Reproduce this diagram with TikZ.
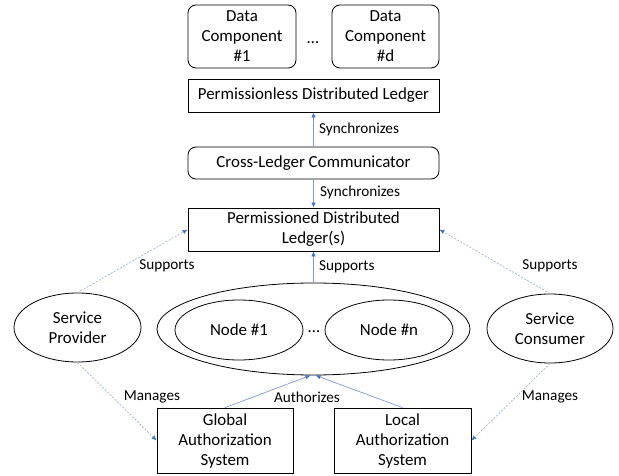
\documentclass[tikz,border=0pt]{standalone}
\usepackage{fontspec}
\setmainfont{Carlito}
\usetikzlibrary{shapes.geometric,arrows.meta,calc}
\definecolor{arr}{HTML}{4472C4}
\definecolor{lnk}{HTML}{7F9AD0}
\definecolor{dsh}{HTML}{9DB2DA}
\begin{document}
\begin{tikzpicture}[x=1pt,y=-1pt,
  every node/.style={font=\fontsize{16.9}{20}\selectfont, align=center, inner sep=0pt},
  rbox/.style={draw, line width=0.8pt, rounded corners=8pt},
  sbox/.style={draw, line width=0.8pt},
  ell/.style={draw, ellipse, line width=0.8pt},
  link/.style={draw=lnk, line width=0.7pt, -{Latex[length=5pt,width=4.5pt,color=arr]}},
  dlink/.style={draw=dsh, line width=0.7pt, dash pattern=on 2pt off 1.5pt, -{Latex[length=5pt,width=4.5pt,color=arr]}},
  lbl/.style={font=\fontsize{15.2}{18}\selectfont}
]
\useasboundingbox (0,0) rectangle (619,476);
% top data components
\node[rbox, minimum width=108pt, minimum height=63pt] (d1) at (242,36.5) {Data\\Component\\\#1};
\node[rbox, minimum width=107pt, minimum height=63pt] (dd) at (385.5,36.5) {Data\\Component\\\#d};
\node (ddots) at (313,43) {\dots};
\node[sbox, minimum width=251pt, minimum height=33pt] (pless) at (313.5,95.5) {Permissionless Distributed Ledger};
\node[rbox, minimum width=251pt, minimum height=32pt] (cross) at (313.5,163) {Cross-Ledger Communicator};
\node[sbox, minimum width=251pt, minimum height=43pt] (perm) at (313.5,229.5) {Permissioned Distributed\\Ledger(s)};
% nodes ellipse
\node[ell, minimum width=313pt, minimum height=92pt] (big) at (313.5,329) {};
\node[ell, minimum width=128pt, minimum height=60pt] (n1) at (239,330) {Node \#1};
\node[ell, minimum width=128pt, minimum height=60pt] (nn) at (389,330) {Node \#n};
\node (ndots) at (314,332) {\dots};
% side ellipses
\node[ell, minimum width=127pt, minimum height=69pt] (sp) at (77.5,327.5) {Service\\Provider};
\node[ell, minimum width=126pt, minimum height=69pt] (sc) at (550,328.5) {Service\\Consumer};
% auth boxes
\node[sbox, minimum width=136pt, minimum height=65pt] (glob) at (225,440.5) {Global\\Authorization\\System};
\node[sbox, minimum width=137pt, minimum height=65pt] (loc) at (402.5,440.5) {Local\\Authorization\\System};
% connectors
\draw[link] (cross.north) -- (pless.south);
\draw[link] (cross.south) -- (perm.north);
\draw[link] (big.north) -- (perm.south);
\coordinate (a1) at ($(big.south)+(-3,0)$);
\coordinate (a2) at ($(big.south)+(2,0)$);
\draw[link] (glob.north) -- (a1);
\draw[link] (loc.north) -- (a2);
\draw[dlink] (sp.north) -- (perm.west);
\draw[dlink] (sp.south) -- (glob.west);
\draw[dlink] (sc.north) -- (perm.east);
\draw[dlink] (sc.south) -- (loc.east);
% labels
\node[lbl, anchor=west] (l1) at (319,129) {Synchronizes};
\node[lbl, anchor=west] (l2) at (320,192) {Synchronizes};
\node[lbl, anchor=west] (l3) at (319,267) {Supports};
\node[lbl] (l4) at (167,266) {Supports};
\node[lbl] (l5) at (550,266) {Supports};
\node[lbl] (l6) at (152,397) {Manages};
\node[lbl] (l7) at (550,397) {Manages};
\node[lbl] (l8) at (307,397) {Authorizes};
\end{tikzpicture}
\end{document}
